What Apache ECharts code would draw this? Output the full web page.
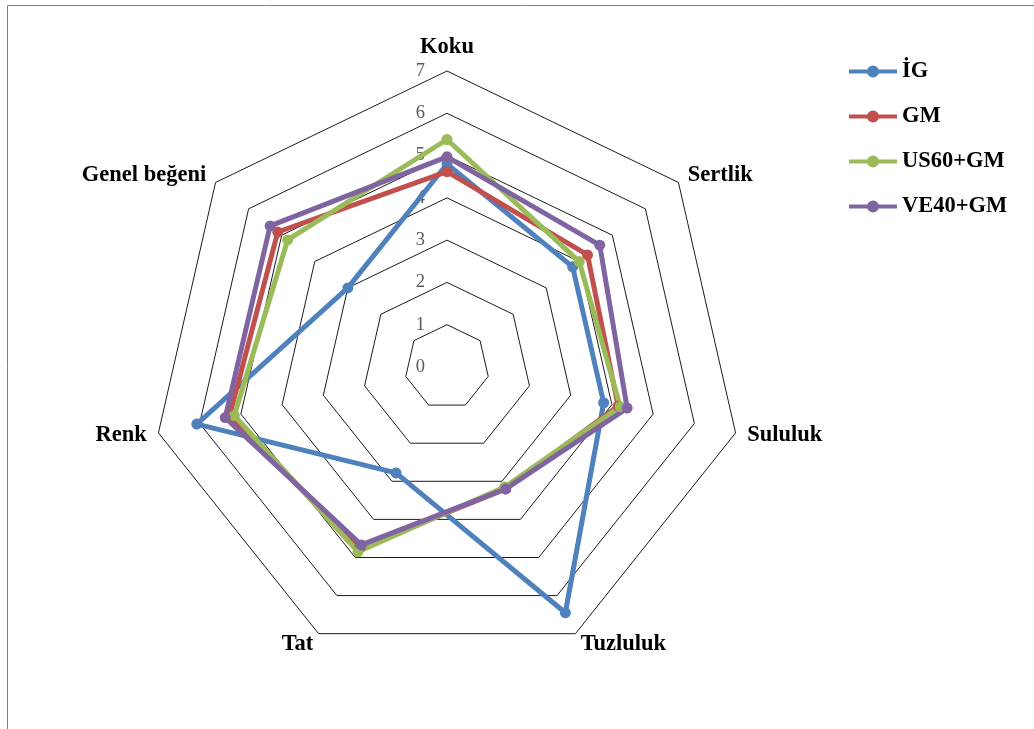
<!DOCTYPE html>
<html>
<head>
<meta charset="utf-8">
<script src="https://cdn.jsdelivr.net/npm/echarts@6/dist/echarts.min.js"></script>
<style>
html,body{margin:0;padding:0;background:#fff;}
#main{width:1034px;height:729px;}
</style>
</head>
<body>
<div id="main"></div>
<script>
// Categories in clockwise order starting from the top
var categories = ['Koku', 'Sertlik', 'Sululuk', 'Tuzluluk', 'Tat', 'Renk', 'Genel beğeni'];
var seriesNames = ['İG', 'GM', 'US60+GM', 'VE40+GM'];
var valuesIG   = [4.80, 3.80, 3.80, 6.45, 2.78, 6.07, 3.00];
var valuesGM   = [4.62, 4.25, 4.15, 3.20, 4.75, 5.28, 5.12];
var valuesUS60 = [5.38, 4.00, 4.20, 3.15, 4.85, 5.16, 4.82];
var valuesVE40 = [4.97, 4.62, 4.37, 3.20, 4.67, 5.38, 5.35];
var tickLabels = ['0', '1', '2', '3', '4', '5', '6', '7'];
var colors = ['#4F81BD', '#C0504D', '#9BBB59', '#8064A2'];

// ECharts radar runs counter-clockwise; reorder so the picture runs clockwise
var order = [0, 6, 5, 4, 3, 2, 1];
function reorder(arr) { return order.map(function (i) { return arr[i]; }); }

var allValues = [valuesIG, valuesGM, valuesUS60, valuesVE40];
var indicator = reorder(categories).map(function (n) { return { name: n, min: 0, max: 7 }; });

var legendIcon = 'path://M0,4h48v4h-48z M30,6a6,6 0 1,1 -12,0a6,6 0 1,1 12,0z';

var chart = echarts.init(document.getElementById('main'));
chart.setOption({
  animation: false,
  backgroundColor: '#fff',
  color: colors,
  graphic: [{
    type: 'rect',
    shape: { x: 7.5, y: 5.5, width: 1100, height: 800 },
    style: { fill: 'none', stroke: '#7f7f7f', lineWidth: 1 },
    silent: true, z: -10
  }],
  legend: {
    orient: 'vertical',
    left: 844,
    top: 55,
    itemWidth: 48,
    itemHeight: 12,
    itemGap: 22,
    icon: legendIcon,
    textStyle: { fontFamily: 'Liberation Serif', fontWeight: 'bold', fontSize: 22.5, color: '#000' },
    data: seriesNames
  },
  grid: { left: 447, top: 71, height: 296, width: 1 },
  xAxis: { type: 'value', show: false },
  yAxis: {
    type: 'value', min: 0, max: 7, interval: 1,
    axisLine: { show: false }, axisTick: { show: false }, splitLine: { show: false },
    axisLabel: {
      margin: 22,
      color: '#595959', fontFamily: 'Liberation Serif', fontSize: 18.5,
      formatter: function (v) { return tickLabels[Math.round(v)]; }
    }
  },
  radar: {
    center: [447, 367],
    radius: 296,
    startAngle: 90,
    splitNumber: 7,
    shape: 'polygon',
    nameGap: 12,
    indicator: indicator,
    axisName: { color: '#000', fontFamily: 'Liberation Serif', fontWeight: 'bold', fontSize: 22.5 },
    axisLine: { show: false },
    axisTick: { show: false },
    axisLabel: { show: false },
    splitArea: { show: false },
    splitLine: { lineStyle: { color: '#1a1a1a', width: 1 } }
  },
  series: [{
    type: 'radar',
    symbol: 'circle',
    symbolSize: 11,
    data: allValues.map(function (vals, i) {
      return {
        name: seriesNames[i],
        value: reorder(vals),
        lineStyle: { color: colors[i], width: 5 },
        itemStyle: { color: colors[i] }
      };
    })
  }]
});
</script>
</body>
</html>
